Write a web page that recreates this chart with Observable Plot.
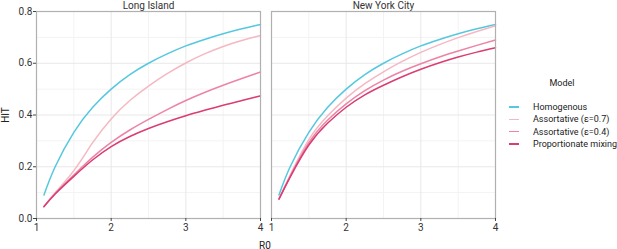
<!DOCTYPE html>
<html><head><meta charset="utf-8">
<script src="https://cdn.jsdelivr.net/npm/d3@7"></script>
<script src="https://cdn.jsdelivr.net/npm/@observablehq/plot@0.6"></script>
<style>
body{margin:0;background:#fff;font-family:Roboto,sans-serif;}
#wrap{position:relative;width:617px;height:249px;overflow:hidden;}
#chart{position:absolute;left:0;top:0;}
.lbl{position:absolute;font-size:10px;color:#222;white-space:nowrap;}
.leg{font-size:9px;}
.key{position:absolute;width:10px;height:1.6px;}
</style></head><body>
<div id="wrap"><div id="chart"></div></div>
<script>
const regions = ["Long Island", "New York City"];
const models = ["Homogenous", "Assortative (ε=0.7)", "Assortative (ε=0.4)", "Proportionate mixing"];
const colors = ["#55c8df", "#f5b8c3", "#ec84a4", "#da3c74"];
const r0 = [1.1, 1.25, 1.5, 1.75, 2, 2.25, 2.5, 2.75, 3, 3.25, 3.5, 3.75, 4];

// Long Island
const liHomogenous = [0.091, 0.2, 0.333, 0.429, 0.5, 0.556, 0.6, 0.636, 0.667, 0.692, 0.714, 0.733, 0.75];
const liAssort07   = [0.046, 0.10, 0.185, 0.292, 0.385, 0.456, 0.512, 0.56, 0.601, 0.636, 0.665, 0.688, 0.707];
const liAssort04   = [0.046, 0.097, 0.168, 0.236, 0.294, 0.342, 0.383, 0.421, 0.456, 0.487, 0.515, 0.541, 0.566];
const liProp       = [0.046, 0.095, 0.163, 0.226, 0.278, 0.317, 0.348, 0.374, 0.397, 0.418, 0.438, 0.456, 0.474];
// New York City
const nycHomogenous = [0.091, 0.2, 0.333, 0.429, 0.5, 0.556, 0.6, 0.636, 0.667, 0.692, 0.714, 0.733, 0.75];
const nycAssort07   = [0.076, 0.168, 0.305, 0.396, 0.465, 0.521, 0.567, 0.607, 0.642, 0.672, 0.699, 0.723, 0.745];
const nycAssort04   = [0.075, 0.163, 0.293, 0.38, 0.443, 0.494, 0.535, 0.569, 0.598, 0.624, 0.647, 0.669, 0.69];
const nycProp       = [0.075, 0.16, 0.284, 0.368, 0.43, 0.478, 0.515, 0.548, 0.577, 0.602, 0.624, 0.643, 0.66];

const xTicks = [1, 2, 3, 4];
const xMinor = [1.5, 2.5, 3.5];
const yTicks = [0, 0.2, 0.4, 0.6, 0.8];
const yMinor = [0.1, 0.3, 0.5, 0.7];

const series = [
  [regions[0], models[0], liHomogenous], [regions[0], models[1], liAssort07],
  [regions[0], models[2], liAssort04], [regions[0], models[3], liProp],
  [regions[1], models[0], nycHomogenous], [regions[1], models[1], nycAssort07],
  [regions[1], models[2], nycAssort04], [regions[1], models[3], nycProp]
];
const rows = series.flatMap(([region, model, vals]) => r0.map((x, i) => ({region, model, R0: x, HIT: vals[i]})));

const chart = Plot.plot({
  width: 500, height: 249,
  marginLeft: 35, marginRight: 4, marginTop: 11, marginBottom: 31,
  style: {fontFamily: "Roboto, sans-serif", fontSize: "10px", color: "#333", background: "transparent"},
  fx: {domain: regions, padding: 0.0466, label: null, axis: "top", tickSize: 0, tickPadding: 3},
  x: {domain: [1, 4], label: null},
  y: {domain: [0, 0.8], label: null},
  color: {domain: models, range: colors},
  marks: [
    Plot.gridX(xMinor, {stroke: "#f3f3f3", strokeOpacity: 1}),
    Plot.gridY(yMinor, {stroke: "#f3f3f3", strokeOpacity: 1}),
    Plot.gridX(xTicks, {stroke: "#e8e8e8", strokeOpacity: 1}),
    Plot.gridY(yTicks, {stroke: "#e8e8e8", strokeOpacity: 1}),
    Plot.lineY(rows, {fx: "region", x: "R0", y: "HIT", z: "model", stroke: "model", strokeWidth: 1.5, curve: "natural"}),
    Plot.frame({stroke: "#b0b0b0", strokeWidth: 1.2}),
    Plot.axisX(xTicks, {tickSize: 3, tickPadding: 2, tickFormat: d3.format("d"), label: null, stroke: "#444"}),
    Plot.axisY(yTicks, {tickSize: 3, tickPadding: 1, tickFormat: d3.format(".1f"), label: null, stroke: "#444"})
  ]
});
document.getElementById("chart").appendChild(chart);

const wrap = document.getElementById("wrap");
function addLabel(text, left, top, extra, cls) {
  const d = document.createElement("div");
  d.className = "lbl" + (cls ? " " + cls : "");
  d.textContent = text;
  d.style.left = left + "px";
  d.style.top = top + "px";
  if (extra) Object.assign(d.style, extra);
  wrap.appendChild(d);
  return d;
}
addLabel("R0", 265, 245, {transform: "translate(-50%,-50%)"});
addLabel("HIT", 5, 115, {transform: "translate(-50%,-50%) rotate(-90deg)"});
addLabel("Model", 562, 83, {transform: "translate(-50%,-50%)"}, "leg");
const keyY = [107, 119.3, 131.7, 144];
models.forEach((m, i) => {
  const k = document.createElement("div");
  k.className = "key";
  k.style.left = "509px";
  k.style.top = (keyY[i] - 0.8) + "px";
  k.style.background = colors[i];
  wrap.appendChild(k);
  addLabel(m, 533, keyY[i], {transform: "translateY(-50%)"}, "leg");
});
</script>
</body></html>
